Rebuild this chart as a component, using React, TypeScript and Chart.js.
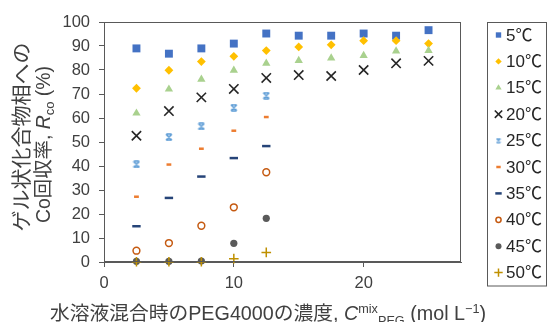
import React, { useEffect, useRef } from 'react';
import { Chart, registerables } from 'chart.js';
import { drawPoint } from 'chart.js/helpers';

Chart.register(...registerables);

// ---- data ----
const concentrations = [2.5, 5, 7.5, 10, 12.5, 15, 17.5, 20, 22.5, 25];
const seriesLabels = ['5℃', '10℃', '15℃', '20℃', '25℃', '30℃', '35℃', '40℃', '45℃', '50℃'];
const r5 = [89.0, 86.8, 89.0, 91.0, 95.2, 94.3, 94.3, 95.2, 94.3, 96.6];
const r10 = [72.4, 79.9, 83.5, 85.7, 88.1, 89.6, 90.5, 92.2, 92.2, 91.0];
const r15 = [62.0, 72.0, 76.1, 79.9, 82.8, 83.9, 85.0, 86.0, 87.9, 88.1];
const r20 = [52.6, 62.9, 68.6, 72.1, 76.7, 77.9, 77.5, 80.0, 82.8, 83.8];
const r25 = [40.7, 52.0, 56.5, 64.3, 69.3];
const r30 = [27.2, 40.6, 47.2, 54.7, 60.4];
const r35 = [14.9, 26.7, 35.6, 43.3, 48.3];
const r40 = [4.7, 7.9, 15.1, 22.8, 37.4];
const r45 = [0.3, 0.3, 0.4, 7.8, 18.2];
const r50 = [0.1, 0.1, 0.1, 1.4, 4.0];
const seriesValues = [r5, r10, r15, r20, r25, r30, r35, r40, r45, r50];
const xTickValues = [0, 10, 20];
const yTickStep = 10;

const LATIN = '"Liberation Sans", Arial, "Noto Sans CJK JP", sans-serif';
const TEXT = '#404040';
const AXIS = '#595959';

function makeStar(size: number, color: string, lw: number) {
  const c = document.createElement('canvas');
  c.width = size; c.height = size;
  const g = c.getContext('2d')!;
  g.strokeStyle = color;
  g.lineWidth = lw;
  const a = 1, b = size - 1;
  g.beginPath();
  g.moveTo(a, a); g.lineTo(b, b);
  g.moveTo(b, a); g.lineTo(a, b);
  g.moveTo(a + 0.5, a); g.lineTo(b - 0.5, a);
  g.moveTo(a + 0.5, b); g.lineTo(b - 0.5, b);
  g.stroke();
  return c;
}

type Seg = { t: string; size: number; italic?: boolean; dy?: number };

// draws a run of text centred at cx, horizontally fitted to `fit` pixels
function drawRich(ctx: CanvasRenderingContext2D, segs: Seg[], cx: number, baseY: number, fit?: number) {
  const widths = segs.map((s) => {
    ctx.font = `${s.italic ? 'italic ' : ''}${s.size}px ${LATIN}`;
    return ctx.measureText(s.t).width;
  });
  const total = widths.reduce((a, b) => a + b, 0);
  const k = fit ? fit / total : 1;
  ctx.save();
  ctx.translate(cx, baseY);
  ctx.scale(k, 1);
  let x = -total / 2;
  segs.forEach((s, i) => {
    ctx.font = `${s.italic ? 'italic ' : ''}${s.size}px ${LATIN}`;
    ctx.fillText(s.t, x, s.dy || 0);
    x += widths[i];
  });
  ctx.restore();
}

export default function App() {
  const ref = useRef<HTMLCanvasElement>(null);

  useEffect(() => {
    document.body.style.margin = '0';
    const starBig = makeStar(8, '#5B9BD5', 1.5);
    const starSmall = makeStar(6, '#5B9BD5', 1.2);

    const styles: any[] = [
      { ps: 'rect', r: 5.6, bg: '#4472C4', bc: '#4472C4', bw: 0, lr: 3.8 },
      { ps: 'rectRot', r: 4.4, bg: '#FFC000', bc: '#FFC000', bw: 0, lr: 3.2 },
      { ps: 'triangle', r: 4.8, bg: '#A9D18E', bc: '#A9D18E', bw: 0, lr: 3.6 },
      { ps: 'crossRot', r: 6.6, bg: 'rgba(0,0,0,0)', bc: '#262626', bw: 1.6, lr: 5.2 },
      { ps: starBig, lps: starSmall, r: 4, bg: '#5B9BD5', bc: '#5B9BD5', bw: 1, lr: 3 },
      { ps: 'line', r: 2.4, bg: '#ED7D31', bc: '#ED7D31', bw: 2.5, lr: 2.2 },
      { ps: 'line', r: 4.2, bg: '#264478', bc: '#264478', bw: 2.5, lr: 3.2 },
      { ps: 'circle', r: 3.4, bg: '#FFFFFF', bc: '#C55A11', bw: 1.5, lr: 2.6 },
      { ps: 'circle', r: 3.6, bg: '#5A5A5A', bc: '#5A5A5A', bw: 0, lr: 3 },
      { ps: 'cross', r: 4.8, bg: '#BF9000', bc: '#BF9000', bw: 1.5, lr: 4.2 },
    ];

    const datasets = seriesValues.map((vals, i) => ({
      label: seriesLabels[i],
      data: vals.map((v, j) => ({ x: concentrations[j], y: v })),
      pointStyle: styles[i].ps,
      pointRadius: styles[i].r,
      pointBackgroundColor: styles[i].bg,
      pointBorderColor: styles[i].bc,
      pointBorderWidth: styles[i].bw,
      showLine: false,
      clip: false as any,
      order: seriesValues.length - i,
    }));

    const overlay = {
      id: 'overlay',
      afterDraw(chart: any) {
        const ctx: CanvasRenderingContext2D = chart.ctx;
        const a = chart.chartArea;
        ctx.save();
        // plot frame
        ctx.strokeStyle = AXIS;
        ctx.lineWidth = 1;
        ctx.strokeRect(Math.round(a.left) + 0.5, Math.round(a.top) + 0.5, Math.round(a.right - a.left) - 1, Math.round(a.bottom - a.top) - 1);

        ctx.fillStyle = TEXT;
        ctx.textBaseline = 'alphabetic';
        // y title
        ctx.save();
        ctx.translate(28.5, 137);
        ctx.rotate(-Math.PI / 2);
        drawRich(ctx, [{ t: 'ゲル状化合物相への', size: 20 }], 0, 0, 189);
        ctx.restore();
        ctx.save();
        ctx.translate(50, 144.5);
        ctx.rotate(-Math.PI / 2);
        drawRich(ctx, [
          { t: 'Co回収率, ', size: 19.5 },
          { t: 'R', size: 19.5, italic: true },
          { t: 'co', size: 13, dy: 4 },
          { t: ' (%)', size: 19.5 },
        ], 0, 0, 157);
        ctx.restore();

        // x title
        drawRich(ctx, [
          { t: '水溶液混合時のPEG4000の濃度, ', size: 19.5 },
          { t: 'C', size: 19.5, italic: true },
          { t: 'mix', size: 12.5, dy: -7 },
          { t: 'PEG', size: 12.5, dy: 5 },
          { t: ' (mol L', size: 19.5 },
          { t: '−1', size: 12.5, dy: -7 },
          { t: ')', size: 19.5 },
        ], 268, 320, 436);

        // legend
        const lx = 487.5, ly = 22.5, lw = 59, lh = 263.5;
        ctx.strokeStyle = AXIS;
        ctx.lineWidth = 1;
        ctx.strokeRect(lx, ly, lw, lh);
        ctx.textBaseline = 'middle';
        ctx.font = `17px ${LATIN}`;
        seriesLabels.forEach((lab, i) => {
          const y = 35 + i * 26.4;
          const st = styles[i];
          ctx.fillStyle = st.bg;
          ctx.strokeStyle = st.bc;
          ctx.lineWidth = st.bw;
          drawPoint(ctx, { pointStyle: st.lps || st.ps, rotation: 0, radius: st.lr, borderWidth: st.bw } as any, 498.5, y);
          ctx.fillStyle = '#262626';
          ctx.font = `17px ${LATIN}`;
          ctx.fillText(lab, 506, y + 1);
        });
        ctx.restore();
      },
    };

    const chart = new Chart(ref.current!, {
      type: 'scatter',
      data: { datasets },
      options: {
        animation: false,
        responsive: false,
        devicePixelRatio: 1,
        layout: { padding: { top: 22, right: 87, left: 0, bottom: 0 } },
        plugins: { legend: { display: false }, tooltip: { enabled: false } },
        scales: {
          x: {
            type: 'linear',
            min: 0,
            max: 27.5,
            afterBuildTicks: (s: any) => {
              s.ticks = xTickValues.map((v) => ({ value: v }));
            },
            afterFit: (s: any) => {
              s.height = 60;
            },
            ticks: { font: { family: LATIN, size: 16.5 }, color: TEXT, padding: 7, maxRotation: 0 },
            grid: { drawOnChartArea: false, drawTicks: true, tickLength: 5, color: AXIS, tickColor: AXIS },
            border: { display: true, color: AXIS, width: 1 },
          },
          y: {
            type: 'linear',
            min: 0,
            max: 100,
            afterFit: (s: any) => {
              s.width = 104;
            },
            ticks: { stepSize: yTickStep, font: { family: LATIN, size: 16.5 }, color: TEXT, padding: 9 },
            grid: { drawOnChartArea: false, drawTicks: true, tickLength: 5, color: AXIS, tickColor: AXIS },
            border: { display: true, color: AXIS, width: 1 },
          },
        },
      },
      plugins: [overlay],
    });
    return () => chart.destroy();
  }, []);

  return <canvas ref={ref} width={548} height={322} style={{ display: 'block' }} />;
}
